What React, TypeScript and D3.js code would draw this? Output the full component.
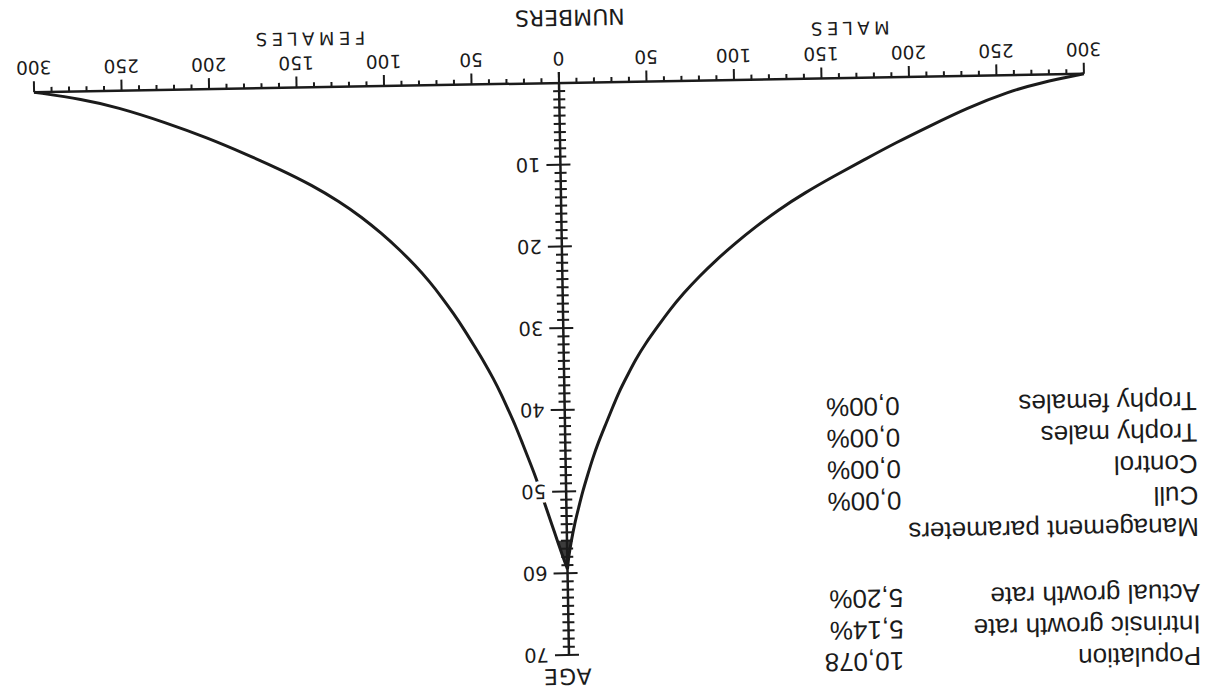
import React from 'react';
import * as d3 from 'd3';

// Age classes (years) and numbers per age class
const ages = [0, 1, 2, 4, 6, 8, 10, 12, 14, 16, 18, 20, 22, 24, 26, 28, 30, 32, 34, 36, 38, 40, 42, 44, 46, 48, 50, 52, 54, 56, 58, 59.5];
const males = [300, 275, 257, 232, 212, 192, 174, 156, 139, 124, 111, 99, 88, 78, 69, 61, 54, 47, 41, 36, 31, 27, 23, 19, 15.5, 12.5, 9.5, 7, 4.5, 2.5, 0.8, 0];
const females = [300, 272, 253, 225, 201, 180, 160, 142, 127, 114, 103, 93, 84, 76, 69, 62.5, 56.5, 51, 45.5, 40.5, 36, 32, 28, 24.5, 21, 17.5, 14.5, 11.5, 8.5, 5.5, 2.5, 0];

const numberTickLabels = [0, 50, 100, 150, 200, 250, 300];
const ageTickLabels = [10, 20, 30, 40, 50, 60, 70];

const statLabels = ['Population', 'Intrinsic growth rate', 'Actual growth rate'];
const statValues = ['10,078', '5,14%', '5,20%'];
const mgmtTitle = 'Management parameters';
const mgmtLabels = ['Cull', 'Control', 'Trophy males', 'Trophy females'];
const mgmtValues = ['0,00%', '0,00%', '0,00%', '0,00%'];

const W = 1217;
const H = 695;
const INK = '#1b1b1b';

export default function App() {
  const xMale = d3.scaleLinear().domain([0, 300]).range([0, -525]);
  const xFemale = d3.scaleLinear().domain([0, 300]).range([0, 525]);
  const yAge = d3.scaleLinear().domain([0, 70]).range([0, -572]);

  const idx = d3.range(ages.length);
  const maleLine = d3.line<number>().x(i => xMale(males[i])).y(i => yAge(ages[i])).curve(d3.curveBasis);
  const femaleLine = d3.line<number>().x(i => xFemale(females[i])).y(i => yAge(ages[i])).curve(d3.curveBasis);
  const cuspIdx = idx.filter(i => ages[i] >= 56);
  const cuspArea = d3.area<number>()
    .x0(i => xMale(males[i])).x1(i => xFemale(females[i])).y(i => yAge(ages[i]))
    .curve(d3.curveMonotoneY);

  const numTicks = d3.range(0, 301, 10);
  const ageTicks = d3.range(1, 71, 1);

  const tickFont = 'DejaVu Sans, sans-serif';
  const tableFont = 'Liberation Sans, Arial, sans-serif';
  const row = 31.5;

  return (
    <svg width={W} height={H} style={{ position: 'absolute', left: 0, top: 0, background: '#fff' }}>
      <rect x={0} y={0} width={W} height={H} fill="#fff" />
      <g transform="translate(559,83) rotate(179)">
        {/* cusp fill */}
        <path d={cuspArea(cuspIdx) || ''} fill="#3c3c3c" />
        {/* curves */}
        <path d={maleLine(idx) || ''} fill="none" stroke={INK} strokeWidth={3} />
        <path d={femaleLine(idx) || ''} fill="none" stroke={INK} strokeWidth={3} />

        {/* numbers axis */}
        <line x1={xMale(300)} x2={xFemale(300)} y1={0} y2={0} stroke={INK} strokeWidth={2.5} />
        {numTicks.map(v => {
          const len = v % 50 === 0 ? 11 : 5;
          return (
            <g key={'nt' + v}>
              <line x1={xMale(v)} x2={xMale(v)} y1={0} y2={len} stroke={INK} strokeWidth={2} />
              <line x1={xFemale(v)} x2={xFemale(v)} y1={0} y2={len} stroke={INK} strokeWidth={2} />
            </g>
          );
        })}
        {numberTickLabels.map(v => (
          <g key={'nl' + v} fontFamily={tickFont} fontSize={18.5} fill={INK} textAnchor="middle">
            <text x={xMale(v)} y={31}>{v}</text>
            {v !== 0 && <text x={xFemale(v)} y={31}>{v}</text>}
          </g>
        ))}
        <text x={-290} y={56} fontFamily={tickFont} fontSize={18} letterSpacing={4.5} textAnchor="middle" fill={INK}>MALES</text>
        <text x={250} y={55} fontFamily={tickFont} fontSize={18} letterSpacing={4.5} textAnchor="middle" fill={INK}>FEMALES</text>
        <text x={-12} y={73} fontFamily={tickFont} fontSize={22} textAnchor="middle" fill={INK}>NUMBERS</text>

        {/* age axis */}
        <line x1={0} x2={0} y1={0} y2={yAge(70)} stroke={INK} strokeWidth={2.5} />
        {ageTicks.map(a => {
          const major = a % 10 === 0;
          return (
            <line key={'at' + a} x1={major ? -10 : -6} x2={major ? 14 : 6} y1={yAge(a)} y2={yAge(a)} stroke={INK} strokeWidth={2} />
          );
        })}
        {ageTickLabels.map(a => (
          <text key={'al' + a} x={20} y={yAge(a)} dy="0.36em" fontFamily={tickFont} fontSize={19.5} fill={INK}
            stroke="#fff" strokeWidth={7} paintOrder="stroke" strokeLinejoin="round">{a}</text>
        ))}
        <text x={2} y={-586} fontFamily={tickFont} fontSize={22} letterSpacing={1} textAnchor="middle" fill={INK}>AGE</text>

        {/* parameter table */}
        <g fontFamily={tableFont} fontSize={26} fill={INK}>
          {statLabels.map((l, i) => (
            <g key={'s' + i}>
              <text x={-632} y={-575 + i * row}>{l}</text>
              <text x={-335} y={-575 + i * row}>{statValues[i]}</text>
            </g>
          ))}
          <text x={-632} y={-446}>{mgmtTitle}</text>
          {mgmtLabels.map((l, i) => (
            <g key={'m' + i}>
              <text x={-632} y={-446 + (i + 1) * row}>{l}</text>
              <text x={-335} y={-446 + (i + 1) * row}>{mgmtValues[i]}</text>
            </g>
          ))}
        </g>
      </g>
    </svg>
  );
}
